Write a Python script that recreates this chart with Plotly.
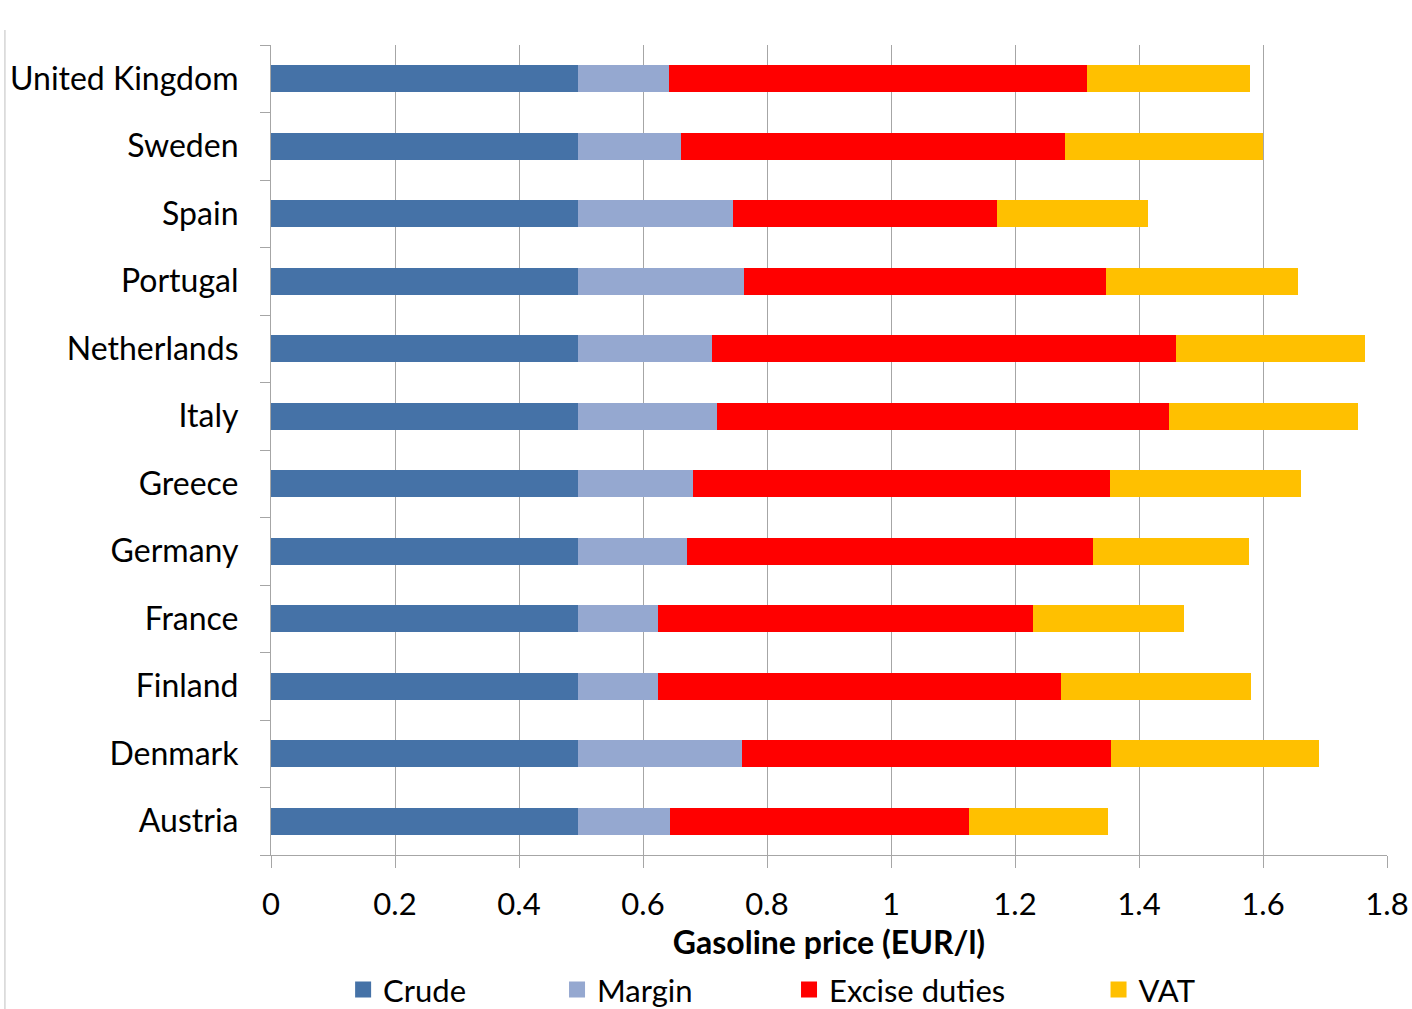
import plotly.graph_objects as go

# Gasoline price breakdown by country (EUR per litre)
countries = ["Austria", "Denmark", "Finland", "France", "Germany", "Greece",
             "Italy", "Netherlands", "Portugal", "Spain", "Sweden", "United Kingdom"]
crude = [0.495, 0.495, 0.495, 0.495, 0.495, 0.495, 0.495, 0.495, 0.495, 0.495, 0.495, 0.495]
margin = [0.149, 0.265, 0.129, 0.129, 0.176, 0.186, 0.224, 0.216, 0.268, 0.250, 0.166, 0.147]
excise = [0.482, 0.595, 0.650, 0.605, 0.655, 0.672, 0.729, 0.749, 0.584, 0.426, 0.620, 0.674]
vat = [0.224, 0.335, 0.307, 0.244, 0.251, 0.308, 0.305, 0.305, 0.309, 0.244, 0.319, 0.263]

series = [
    ("Crude", crude, "#4572A7"),
    ("Margin", margin, "#95A8D0"),
    ("Excise duties", excise, "#FF0000"),
    ("VAT", vat, "#FFC000"),
]
legend_x = [0.243, 0.3945, 0.5588, 0.778]

FONT = "Lato"
fig = go.Figure()
for i, (name, vals, color) in enumerate(series):
    lg = "legend" if i == 0 else f"legend{i + 1}"
    fig.add_trace(go.Bar(
        y=countries, x=vals, name=name, orientation="h",
        marker=dict(color=color, line=dict(width=0)),
        showlegend=False,
    ))
    # legend key: a larger square swatch for each component
    fig.add_trace(go.Scatter(
        x=[None], y=[None], mode="markers", name=name,
        marker=dict(symbol="square", size=18, color=color),
        legend=lg, showlegend=True,
    ))

legend_common = dict(
    orientation="h", yanchor="middle", xanchor="left", y=0.019,
    xref="container", yref="container",
    font=dict(family=FONT, size=31, color="#000000"),
    bgcolor="rgba(0,0,0,0)", itemwidth=30,
)
layout_legends = {}
for i, lx in enumerate(legend_x):
    key = "legend" if i == 0 else f"legend{i + 1}"
    layout_legends[key] = dict(legend_common, x=lx)

fig.update_layout(
    barmode="stack",
    bargap=0.6,
    width=1412, height=1009,
    margin=dict(l=271, r=25, t=45, b=154, autoexpand=False),
    plot_bgcolor="#FFFFFF", paper_bgcolor="#FFFFFF",
    font=dict(family=FONT, size=31, color="#000000"),
    showlegend=True,
    **layout_legends,
)
fig.update_xaxes(
    range=[0, 1.8], dtick=0.2, tick0=0,
    showgrid=True, gridcolor="#A6A6A6", gridwidth=1.2,
    showline=True, linecolor="#A6A6A6", linewidth=1.2,
    ticks="outside", ticklen=12, tickcolor="#A6A6A6",
    tickfont=dict(family=FONT, size=31), ticklabelstandoff=10,
    title=dict(text="<b>Gasoline price (EUR/l)</b>", font=dict(family=FONT, size=32), standoff=8),
    zeroline=False, mirror=False, automargin=False,
)
fig.update_yaxes(
    type="category", categoryorder="array", categoryarray=countries,
    showgrid=False, showline=True, linecolor="#A6A6A6", linewidth=1.2,
    ticks="outside", ticklen=10, tickcolor="#A6A6A6", tickson="boundaries",
    tickfont=dict(family=FONT, size=32), ticklabelstandoff=25, automargin=False,
)
# thin frame line along the left edge
fig.add_shape(type="line", xref="paper", yref="paper", x0=-0.2384, x1=-0.2384, y0=-0.2, y1=1.0185,
              line=dict(color="#BFBFBF", width=1))

fig.write_html("out.html")
